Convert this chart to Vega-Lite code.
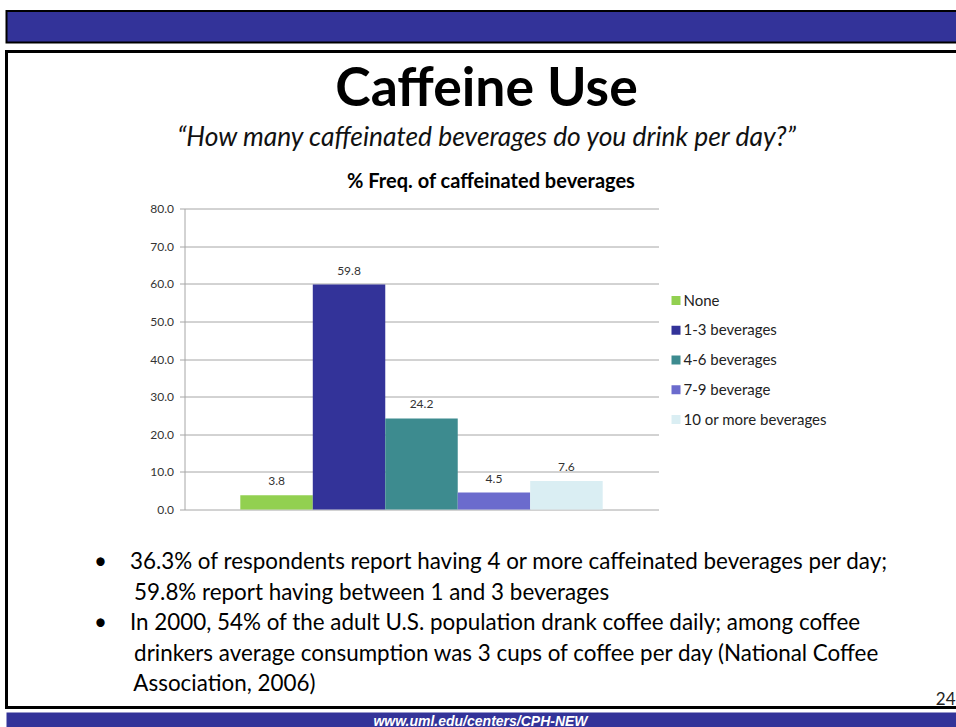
{
  "$schema": "https://vega.github.io/schema/vega-lite/v6.json",
  "padding": {"left": 4.5, "top": 10, "right": 0, "bottom": 0},
  "bounds": "flush",
  "spacing": 8.5,
  "config": {
    "font": "Lato",
    "view": {"stroke": null}
  },
  "vconcat": [
    {
      "width": 960,
      "height": 31.5,
      "view": {"fill": "#333399", "stroke": "black", "strokeWidth": 2},
      "data": {"values": []},
      "mark": "text"
    },
    {
      "bounds": "flush",
      "spacing": 5,
      "vconcat": [
        {
          "width": 960,
          "height": 656,
          "view": {"fill": "white", "stroke": "black", "strokeWidth": 3},
          "title": {
            "text": "Caffeine Use",
            "subtitle": "“How many caffeinated beverages do you drink per day?”",
            "orient": "top",
            "anchor": "middle",
            "frame": "group",
            "offset": -101,
            "dx": 0,
            "font": "Lato",
            "fontSize": 53.5,
            "fontWeight": "bold",
            "color": "black",
            "subtitleFont": "Lato",
            "subtitleFontSize": 26.4,
            "subtitleFontStyle": "italic",
            "subtitleColor": "#111111",
            "subtitlePadding": 8
          },
          "data": {
            "values": [
              {"drinks": "None", "pct": 3.8},
              {"drinks": "1-3 beverages", "pct": 59.8},
              {"drinks": "4-6 beverages", "pct": 24.2},
              {"drinks": "7-9 beverage", "pct": 4.5},
              {"drinks": "10 or more beverages", "pct": 7.6}
            ]
          },
          "encoding": {
            "x": {
              "field": "drinks",
              "type": "nominal",
              "sort": null,
              "scale": {"range": [178, 652], "paddingInner": 0, "paddingOuter": 0.77},
              "axis": {
                "orient": "bottom",
                "domain": false,
                "ticks": false,
                "labels": false,
                "grid": false,
                "title": [
                  "•\u00a0\u00a0\u00a0\u00a036.3% of respondents report having 4 or more caffeinated beverages per day;",
                  "\u200b\u00a0\u00a0\u00a0\u00a0\u00a0\u00a0\u00a059.8% report having between 1 and 3 beverages",
                  "•\u00a0\u00a0\u00a0\u00a0In 2000, 54% of the adult U.S. population drank coffee daily; among coffee",
                  "\u200b\u00a0\u00a0\u00a0\u00a0\u00a0\u00a0\u00a0drinkers average consumption was 3 cups of coffee per day (National Coffee",
                  "\u200b\u00a0\u00a0\u00a0\u00a0\u00a0\u00a0\u00a0Association, 2006)"
                ],
                "titleX": 87,
                "titleY": -139,
                "titleAlign": "left",
                "titleBaseline": "alphabetic",
                "titleFont": "Lato",
                "titleFontSize": 22.4,
                "titleFontWeight": "normal",
                "titleColor": "black",
                "titleLineHeight": 30.5,
                "titleLimit": 3000
              }
            },
            "y": {
              "field": "pct",
              "type": "quantitative",
              "scale": {"domain": [0, 80], "range": [458, 157], "nice": false},
              "axis": {
                "orient": "left",
                "offset": -178,
                "values": [0, 10, 20, 30, 40, 50, 60, 70, 80],
                "format": ".1f",
                "grid": true,
                "gridColor": "#a6a6a6",
                "domainColor": "#a6a6a6",
                "tickColor": "#a6a6a6",
                "tickSize": 5,
                "labelPadding": 6,
                "labelFont": "Lato",
                "labelFontSize": 12,
                "labelColor": "#333333",
                "title": "% Freq. of caffeinated beverages",
                "titleAngle": 0,
                "titleX": 306,
                "titleY": 136,
                "titleAlign": "center",
                "titleBaseline": "alphabetic",
                "titleFont": "Lato",
                "titleFontSize": 20,
                "titleFontWeight": "bold",
                "titleColor": "black",
                "titleLimit": 1000
              }
            }
          },
          "layer": [
            {
              "mark": {"type": "bar"},
              "encoding": {
                "color": {
                  "field": "drinks",
                  "type": "nominal",
                  "sort": null,
                  "scale": {
                    "domain": ["None", "1-3 beverages", "4-6 beverages", "7-9 beverage", "10 or more beverages"],
                    "range": ["#92d050", "#333399", "#3d8b8f", "#6b6bcd", "#daeef3"]
                  },
                  "legend": {
                    "orient": "none",
                    "legendX": 662,
                    "legendY": 282,
                    "title": null,
                    "symbolType": "square",
                    "symbolSize": 81,
                    "symbolStrokeWidth": 0,
                    "labelFont": "Lato",
                    "labelFontSize": 15,
                    "labelColor": "#222222",
                    "labelOffset": 0,
                    "rowPadding": 13.75,
                    "labelLimit": 400
                  }
                }
              }
            },
            {
              "mark": {"type": "text", "baseline": "alphabetic", "dy": -10, "font": "Lato", "fontSize": 12, "color": "#333333"},
              "encoding": {
                "text": {"field": "pct", "type": "quantitative", "format": ".1f"}
              }
            }
          ]
        },
        {
          "width": 960,
          "height": 15,
          "view": {"fill": "#333399", "stroke": null},
          "title": {
            "text": "24",
            "orient": "top",
            "anchor": "end",
            "frame": "group",
            "offset": 4,
            "dx": -11,
            "font": "Lato",
            "fontSize": 17,
            "fontWeight": "normal",
            "color": "#222222"
          },
          "data": {"values": [{"site": "www.uml.edu/centers/CPH-NEW"}]},
          "mark": {
            "type": "text",
            "font": "Liberation Sans",
            "fontSize": 14,
            "fontWeight": "bold",
            "fontStyle": "italic",
            "color": "white",
            "baseline": "alphabetic",
            "dx": -6,
            "dy": 5.5
          },
          "encoding": {
            "text": {"field": "site", "type": "nominal"}
          }
        }
      ]
    }
  ]
}
